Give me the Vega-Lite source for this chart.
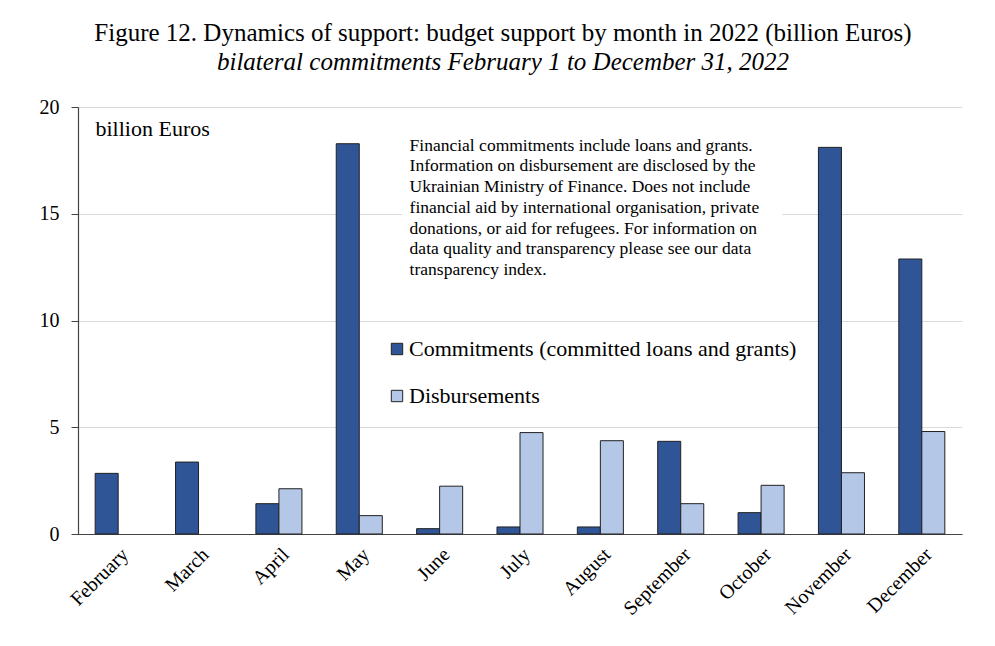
{
  "$schema": "https://vega.github.io/schema/vega-lite/v6.json",
  "autosize": {"type": "none"},
  "padding": {"left": 78, "top": 107, "right": 33, "bottom": 112},
  "width": 884,
  "height": 427,
  "background": "white",
  "config": {
    "font": "Liberation Serif",
    "view": {"stroke": null}
  },
  "title": {
    "text": "Figure 12. Dynamics of support: budget support by month in 2022 (billion Euros)",
    "subtitle": "bilateral commitments February 1 to December 31, 2022",
    "anchor": "middle",
    "frame": "group",
    "dx": -17,
    "offset": 22,
    "font": "Liberation Serif",
    "fontSize": 25,
    "fontWeight": "normal",
    "color": "#000",
    "subtitleFont": "Liberation Serif",
    "subtitleFontSize": 25,
    "subtitleFontStyle": "italic",
    "subtitleColor": "#000",
    "subtitlePadding": 4
  },
  "layer": [
    {
      "data": {
        "values": [
          {"month": "February", "series": "Commitments (committed loans and grants)", "value": 2.84},
          {"month": "March", "series": "Commitments (committed loans and grants)", "value": 3.37},
          {"month": "April", "series": "Commitments (committed loans and grants)", "value": 1.42},
          {"month": "April", "series": "Disbursements", "value": 2.12},
          {"month": "May", "series": "Commitments (committed loans and grants)", "value": 18.28},
          {"month": "May", "series": "Disbursements", "value": 0.86},
          {"month": "June", "series": "Commitments (committed loans and grants)", "value": 0.25},
          {"month": "June", "series": "Disbursements", "value": 2.24},
          {"month": "July", "series": "Commitments (committed loans and grants)", "value": 0.33},
          {"month": "July", "series": "Disbursements", "value": 4.75},
          {"month": "August", "series": "Commitments (committed loans and grants)", "value": 0.33},
          {"month": "August", "series": "Disbursements", "value": 4.37},
          {"month": "September", "series": "Commitments (committed loans and grants)", "value": 4.34},
          {"month": "September", "series": "Disbursements", "value": 1.42},
          {"month": "October", "series": "Commitments (committed loans and grants)", "value": 1.0},
          {"month": "October", "series": "Disbursements", "value": 2.28},
          {"month": "November", "series": "Commitments (committed loans and grants)", "value": 18.11},
          {"month": "November", "series": "Disbursements", "value": 2.87},
          {"month": "December", "series": "Commitments (committed loans and grants)", "value": 12.88},
          {"month": "December", "series": "Disbursements", "value": 4.8}
        ]
      },
      "mark": {"type": "bar", "stroke": "#222", "strokeWidth": 1},
      "encoding": {
        "x": {
          "field": "month",
          "type": "nominal",
          "sort": ["February", "March", "April", "May", "June", "July", "August", "September", "October", "November", "December"],
          "scale": {"paddingInner": 0.427, "paddingOuter": 0.2135},
          "axis": {
            "title": null,
            "labelAngle": -45,
            "labelAlign": "right",
            "labelBaseline": "top",
            "labelFont": "Liberation Serif",
            "labelFontSize": 20,
            "labelColor": "#000",
            "labelPadding": 10,
            "ticks": false,
            "domainColor": "#444",
            "domainWidth": 1.2
          }
        },
        "y": {
          "field": "value",
          "type": "quantitative",
          "scale": {"domain": [0, 20], "nice": false},
          "axis": {
            "values": [0, 5, 10, 15, 20],
            "title": "billion Euros",
            "titleAngle": 0,
            "titleAlign": "left",
            "titleBaseline": "alphabetic",
            "titleX": 17,
            "titleY": 28,
            "titleFont": "Liberation Serif",
            "titleFontSize": 22,
            "titleFontWeight": "normal",
            "titleColor": "#000",
            "labelFont": "Liberation Serif",
            "labelFontSize": 20,
            "labelColor": "#000",
            "labelPadding": 12,
            "tickSize": 7,
            "tickColor": "#444",
            "domainColor": "#444",
            "domainWidth": 1.2,
            "gridColor": "#d9d9d9",
            "gridWidth": 1
          }
        },
        "xOffset": {
          "field": "series",
          "type": "nominal",
          "scale": {"domain": ["Commitments (committed loans and grants)", "Disbursements"], "paddingInner": 0}
        },
        "color": {
          "field": "series",
          "type": "nominal",
          "scale": {
            "domain": ["Commitments (committed loans and grants)", "Disbursements"],
            "range": ["#2F5597", "#B4C7E7"]
          },
          "legend": {
            "title": null,
            "orient": "none",
            "legendX": 308,
            "legendY": 231,
            "symbolType": "square",
            "symbolSize": 130,
            "symbolStrokeColor": "#222",
            "symbolStrokeWidth": 1,
            "labelFont": "Liberation Serif",
            "labelFontSize": 22,
            "labelColor": "#000",
            "labelOffset": 1,
            "labelLimit": 600,
            "rowPadding": 25
          }
        }
      }
    },
    {
      "data": {"values": [{"note": "gap"}]},
      "mark": {"type": "rect", "fill": "white", "stroke": null, "xOffset": -14.6, "x2Offset": -1.6},
      "encoding": {
        "x": {"datum": "June", "type": "nominal", "bandPosition": 0},
        "x2": {"datum": "October", "bandPosition": 1},
        "y": {"datum": 14.7, "type": "quantitative"},
        "y2": {"datum": 15.3}
      }
    },
    {
      "data": {"values": [{"note": "text"}]},
      "mark": {
        "type": "text",
        "align": "left",
        "baseline": "alphabetic",
        "font": "Liberation Serif",
        "fontSize": 17.5,
        "lineHeight": 20.7,
        "color": "#000",
        "dx": -7,
        "text": [
          "Financial commitments include loans and grants.",
          "Information on disbursement are disclosed by the",
          "Ukrainian Ministry of Finance. Does not include",
          "financial aid by international organisation, private",
          "donations, or aid for refugees. For information on",
          "data quality and transparency please see our data",
          "transparency index."
        ]
      },
      "encoding": {
        "x": {"datum": "June", "type": "nominal", "bandPosition": 0},
        "y": {"datum": 17.95, "type": "quantitative"}
      }
    }
  ]
}
